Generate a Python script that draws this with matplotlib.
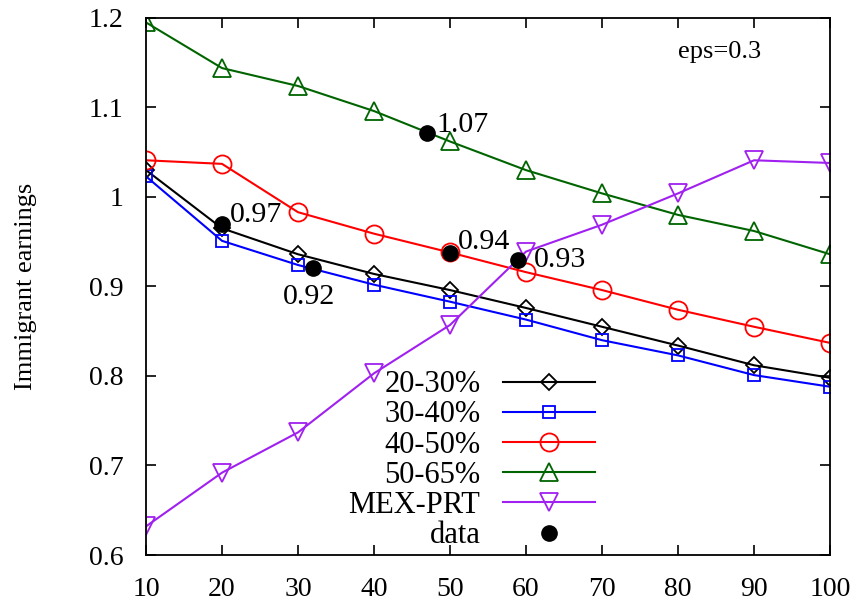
import numpy as np
import matplotlib
matplotlib.use('Agg')
import matplotlib.pyplot as plt

plt.rcParams['font.family'] = ['Liberation Serif', 'DejaVu Serif']

x = [10, 20, 30, 40, 50, 60, 70, 80, 90, 100]
s20_30 = [1.030, 0.965, 0.936, 0.914, 0.896, 0.876, 0.855, 0.834, 0.812, 0.798]
s30_40 = [1.023, 0.951, 0.924, 0.902, 0.883, 0.863, 0.840, 0.823, 0.801, 0.788]
s40_50 = [1.041, 1.037, 0.983, 0.959, 0.938, 0.916, 0.896, 0.874, 0.855, 0.837]
s50_65 = [1.195, 1.144, 1.124, 1.096, 1.062, 1.030, 1.004, 0.980, 0.962, 0.936]
mex_prt = [0.632, 0.692, 0.737, 0.803, 0.857, 0.939, 0.969, 1.004, 1.041, 1.038]

data_x = [20, 32, 47, 50, 59]
data_y = [0.970, 0.921, 1.072, 0.937, 0.930]
data_lbl = ['0.97', '0.92', '1.07', '0.94', '0.93']
# label offsets in pixels (dx, dy, ha)
lbl_off = [(8, 9, 'left'), (-4, -29, 'center'), (9, 8, 'left'), (8, 11, 'left'), (15, 0, 'left')]

fig = plt.figure(figsize=(8.61, 6.03), dpi=100)
ax = fig.add_axes([0.1696, 0.0796, 0.7944, 0.8906])

lw = 1.5
mew = 1.3
ax.plot(x, s20_30, color='black', lw=lw, marker='D', ms=8, mfc='none', mew=mew, label='20-30%')
ax.plot(x, s30_40, color='#0000ff', lw=lw, marker='s', ms=9, mfc='none', mew=mew, label='30-40%')
ax.plot(x, s40_50, color='#ff0000', lw=lw, marker='o', ms=13, mfc='none', mew=mew, label='40-50%')
ax.plot(x, s50_65, color='#006400', lw=lw, marker='^', ms=12.5, mfc='none', mew=mew, label='50-65%')
ax.plot(x, mex_prt, color='#a020f0', lw=lw, marker='v', ms=12.5, mfc='none', mew=mew, label='MEX-PRT')
ax.plot(data_x, data_y, ls='none', marker='o', ms=11, color='black', label='data', zorder=5)

for xx, yy, t, (dx, dy, ha) in zip(data_x, data_y, data_lbl, lbl_off):
    ax.annotate(t, (xx, yy), xytext=(dx, dy), textcoords='offset pixels',
                ha=ha, va='center', fontsize=21.5)

ax.text(0.778, 0.937, 'eps=0.3', transform=ax.transAxes, fontsize=19, va='center', ha='left')

ax.set_xlim(10, 100)
ax.set_ylim(0.6, 1.2)
ax.set_xticks(x)
ax.set_yticks([0.6, 0.7, 0.8, 0.9, 1.0, 1.1, 1.2])
ax.set_yticklabels(['0.6', '0.7', '0.8', '0.9', '1', '1.1', '1.2'])
ax.tick_params(direction='in', length=7, width=1.2, top=True, right=True, labelsize=20)
ax.tick_params(axis='y', pad=16)
ax.tick_params(axis='x', pad=16)
for sp in ax.spines.values():
    sp.set_linewidth(1.3)
ax.set_ylabel('Immigrant earnings', fontsize=19)
ax.yaxis.set_label_coords(-0.16, 0.5)

ax.legend(loc='lower right', bbox_to_anchor=(0.661, 0.003), frameon=False, markerfirst=False,
          fontsize=22, handlelength=3.0, handletextpad=0.75, labelspacing=0.04, borderpad=0.1,
          borderaxespad=0)

fig.savefig('out.png', dpi=100)
